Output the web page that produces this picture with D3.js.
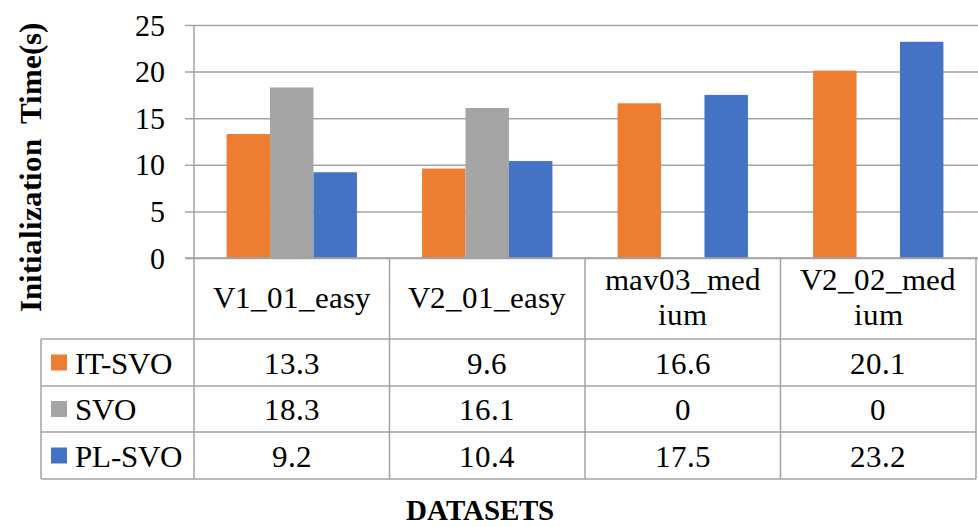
<!DOCTYPE html>
<html>
<head>
<meta charset="utf-8">
<script src="https://cdn.jsdelivr.net/npm/d3@7"></script>
<style>
  @font-face { font-family: "ChartSerif"; src: local("Liberation Serif"), local("LiberationSerif"); font-weight: normal; }
  @font-face { font-family: "ChartSerif"; src: local("Liberation Serif Bold"), local("LiberationSerif-Bold"); font-weight: bold; }
  html, body { margin: 0; padding: 0; background: #fff; }
  svg text { font-family: "ChartSerif", "Liberation Serif", serif !important; }
</style>
</head>
<body>
<div id="chart"></div>
<script>
// Data
const categories = ["V1_01_easy", "V2_01_easy", "mav03_medium", "V2_02_medium"];
const headerLines = [["V1_01_easy"], ["V2_01_easy"], ["mav03_med", "ium"], ["V2_02_med", "ium"]];
const seriesNames = ["IT-SVO", "SVO", "PL-SVO"];
const itSvo = [13.3, 9.6, 16.6, 20.1];
const svo = [18.3, 16.1, 0, 0];
const plSvo = [9.2, 10.4, 17.5, 23.2];
const yTicks = [0, 5, 10, 15, 20, 25];
const seriesColors = ["#ED7D31", "#A5A5A5", "#4472C4"];

const seriesValues = [itSvo, svo, plSvo];

/**
 * Layout
 */
const W = 978, H = 527;
const plot = {left: 194, right: 976, top: 25, bottom: 258};
const rowH = [258, 339, 386, 432, 479];   // table horizontal rules
const tableLeft = 41;
const gridColor = "#a3a3a3";
const FONT = '"ChartSerif", "Liberation Serif", serif';

const svg = d3.select("#chart").append("svg")
  .attr("width", W)
  .attr("height", H);

const x0 = d3.scaleBand()
  .domain(categories)
  .range([plot.left, plot.right])
  .paddingInner(0)
  .paddingOuter(0);

const x1 = d3.scaleBand()
  .domain(seriesNames)
  .range([0, x0.bandwidth()])
  .paddingInner(0)
  .paddingOuter(0.75);

const y = d3.scaleLinear()
  .domain([0, 25])
  .range([plot.bottom, plot.top]);

// gridlines + ticks
const yAxis = d3.axisLeft(y)
  .tickValues(yTicks)
  .tickSize(-(W - plot.left))
  .tickPadding(0);

const ga = svg.append("g")
  .attr("transform", `translate(${plot.left},0)`)
  .call(yAxis);
ga.select(".domain").remove();
ga.selectAll(".tick line")
  .attr("x1", -9)
  .attr("stroke", gridColor)
  .attr("stroke-width", 1.5);
ga.selectAll(".tick text")
  .attr("x", -29)
  .attr("dy", null)
  .attr("y", 10)
  .attr("text-anchor", "end")
  .attr("fill", "#000")
  .style("font-family", FONT)
  .style("font-size", "30px");

// bars
const barData = [];
seriesNames.forEach((s, i) => {
  categories.forEach((c, j) => {
    barData.push({series: s, cat: c, value: seriesValues[i][j], color: seriesColors[i]});
  });
});

svg.append("g").selectAll("rect")
  .data(barData.filter(d => d.value > 0))
  .enter()
  .append("rect")
    .attr("x", d => x0(d.cat) + x1(d.series))
    .attr("y", d => y(d.value))
    .attr("width", x1.bandwidth())
    .attr("height", d => y(0) - y(d.value))
    .attr("fill", d => d.color);

/**
 * Data table under the axis
 */
const lines = svg.append("g")
  .attr("stroke", gridColor)
  .attr("stroke-width", 1.5)
  .attr("fill", "none");

// y axis line
lines.append("line")
  .attr("x1", plot.left).attr("x2", plot.left)
  .attr("y1", y(25)).attr("y2", rowH[4]);

// x axis / header top
lines.append("line")
  .attr("x1", plot.left - 9).attr("x2", W)
  .attr("y1", y(0)).attr("y2", y(0));

// row rules
rowH.slice(1).forEach(r => {
  lines.append("line")
    .attr("x1", tableLeft).attr("x2", plot.right)
    .attr("y1", r).attr("y2", r);
});

// column rules
categories.forEach(c => {
  const xr = x0(c) + x0.bandwidth();
  lines.append("line")
    .attr("x1", xr).attr("x2", xr)
    .attr("y1", rowH[0]).attr("y2", rowH[4]);
});
lines.append("line")
  .attr("x1", tableLeft).attr("x2", tableLeft)
  .attr("y1", rowH[1]).attr("y2", rowH[4]);

const addText = (x, yy, str, size, anchor) => svg.append("text")
  .attr("x", x)
  .attr("y", yy)
  .attr("text-anchor", anchor || "start")
  .style("font-family", FONT)
  .style("font-size", size + "px")
  .text(str);

// header labels
categories.forEach((c, j) => {
  const cx = x0(c) + x0.bandwidth() / 2;
  const ls = headerLines[j];
  if (ls.length === 1) {
    addText(cx, 308, ls[0], 31, "middle");
  } else {
    addText(cx, 290, ls[0], 31, "middle");
    addText(cx, 325, ls[1], 31, "middle");
  }
});

// rows: legend key + values
seriesNames.forEach((s, i) => {
  const top = rowH[i + 1], bot = rowH[i + 2];
  const mid = (top + bot) / 2;
  svg.append("rect")
    .attr("x", 51)
    .attr("y", mid - 8)
    .attr("width", 16)
    .attr("height", 16)
    .attr("fill", seriesColors[i]);
  addText(75, mid + 11, s, 31);
  categories.forEach((c, j) => {
    addText(x0(c) + x0.bandwidth() / 2, mid + 11, seriesValues[i][j], 31, "middle");
  });
});

// axis titles
svg.append("text")
  .attr("transform", `translate(41,167) rotate(-90)`)
  .attr("text-anchor", "middle")
  .style("font-family", FONT)
  .style("font-size", "31px")
  .style("font-weight", "bold")
  .style("white-space", "pre")
  .text("Initialization  Time(s)");

svg.append("text")
  .attr("x", 480)
  .attr("y", 520)
  .attr("text-anchor", "middle")
  .style("font-family", FONT)
  .style("font-size", "29px")
  .style("font-weight", "bold")
  .text("DATASETS");
</script>
</body>
</html>
